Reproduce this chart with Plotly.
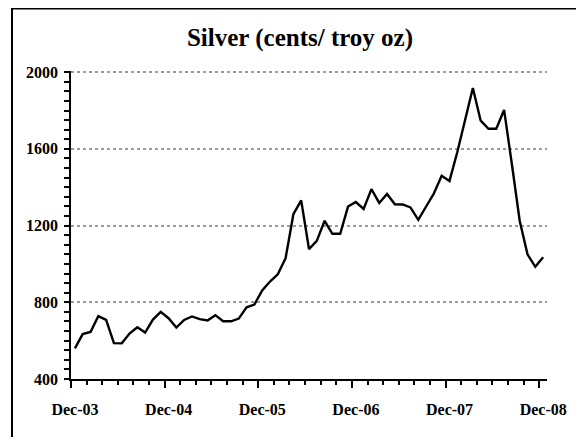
import plotly.graph_objects as go

# Monthly silver price, Dec-03 .. Dec-08 (cents / troy oz)
silver = [
    560, 634, 645, 728, 708, 587, 586, 637, 670, 642, 710, 750,   # Dec-03 .. Nov-04
    717, 668, 708, 726, 712, 705, 733, 701, 701, 715, 774, 788,   # Dec-04 .. Nov-05
    862, 908, 946, 1030, 1259, 1331, 1077, 1120, 1225, 1157, 1157, 1299,  # Dec-05 .. Nov-06
    1323, 1287, 1390, 1318, 1365, 1311, 1310, 1295, 1230, 1295, 1367, 1460,  # Dec-06 .. Nov-07
    1432, 1582, 1747, 1917, 1747, 1705, 1705, 1803, 1520, 1225, 1050, 985,  # Dec-07 .. Nov-08
    1035,  # Dec-08
]
tick_labels = ["Dec-03", "Dec-04", "Dec-05", "Dec-06", "Dec-07", "Dec-08"]
y_ticks = [400, 800, 1200, 1600, 2000]

n = len(silver)
# each month is a category; points sit at the category centres
x_pos = [i + 0.5 for i in range(n)]
x_ticks = [12 * k for k in range(len(tick_labels))]

# the page body has an 8px margin, so the figure is sized/positioned to compensate
W, H = 576, 429
L, R, T, B = 63, 37, 63, 58

FONT = "Liberation Serif, Times New Roman, serif"

fig = go.Figure()
fig.add_trace(go.Scatter(
    x=x_pos, y=silver, mode="lines",
    line=dict(color="black", width=2.4),
    hoverinfo="skip", showlegend=False,
))

fig.update_layout(
    width=W, height=H,
    margin=dict(l=L, r=R, t=T, b=B),
    paper_bgcolor="white", plot_bgcolor="white",
    title=dict(
        text="Silver (cents/ troy oz)",
        font=dict(family=FONT, size=25, color="black", weight="bold"),
        x=292 / W, xanchor="center", xref="container",
        y=1 - 29 / H, yanchor="middle", yref="container",
    ),
    xaxis=dict(
        range=[0, n], showgrid=False, zeroline=False,
        showline=True, linecolor="black", linewidth=1.5,
        tickmode="array", tickvals=x_ticks, ticktext=tick_labels,
        ticks="outside", ticklen=7, tickwidth=1.5, tickcolor="black",
        ticklabelshift=4, ticklabelstandoff=8,
        tickfont=dict(family=FONT, size=16, color="black", weight="bold"),
        minor=dict(ticks="outside", tick0=0, dtick=2, ticklen=4,
                   tickwidth=1.5, tickcolor="black", showgrid=False),
    ),
    yaxis=dict(
        range=[400, 2006], zeroline=False,
        showline=True, linecolor="black", linewidth=1.5,
        tickmode="array", tickvals=y_ticks,
        ticks="outside", ticklen=5, tickwidth=1.5, tickcolor="black",
        ticklabelstandoff=3,
        tickfont=dict(family=FONT, size=16, color="black", weight="bold"),
        showgrid=True, gridcolor="#9a9a9a", gridwidth=1.5, griddash="dot",
        minor=dict(ticks="outside", tick0=400, dtick=50, ticklen=5,
                   tickwidth=1.5, tickcolor="black", showgrid=False),
    ),
)

# frame around the chart (left and top edges visible in the reference)
px_x = lambda px: (px - L) / (W - L - R)
px_y = lambda py: (H - B - py) / (H - T - B)
fig.add_shape(type="line", xref="paper", yref="paper",
              x0=px_x(4), x1=px_x(4), y0=px_y(0), y1=px_y(H + 2),
              line=dict(color="black", width=2))
fig.add_shape(type="line", xref="paper", yref="paper",
              x0=px_x(3), x1=px_x(W + 2), y0=px_y(0.5), y1=px_y(0.5),
              line=dict(color="black", width=2))

fig.write_html("out.html")
